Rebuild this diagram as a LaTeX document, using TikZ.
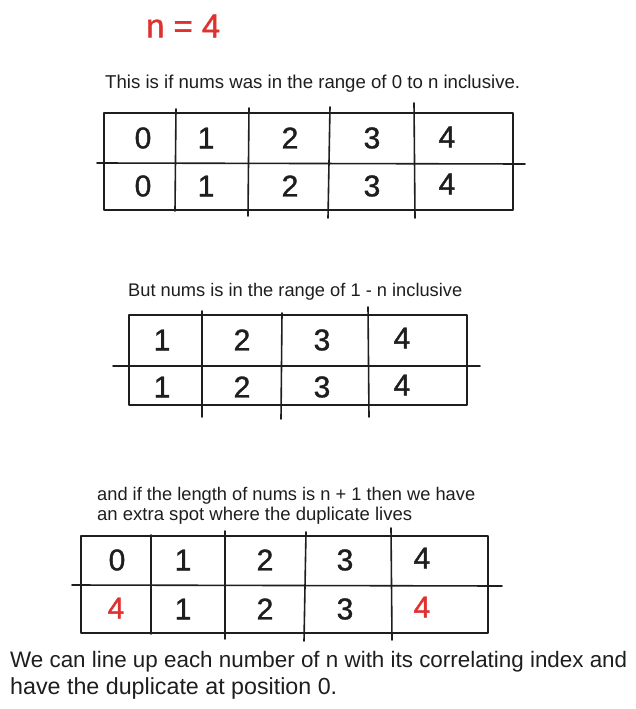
\documentclass[tikz,border=0pt]{standalone}
\usepackage{fontspec}
\setmainfont{Liberation Sans}
\newfontfamily\digitfont[FakeBold=1.2]{Liberation Sans}
\usepackage{graphicx}
\definecolor{ink}{HTML}{1E1E1E}
\definecolor{redink}{HTML}{E03131}
\tikzset{
  gridline/.style={draw=ink, line width=1.6pt, line cap=round, line join=round},
  digit/.style={text=ink, font=\digitfont\fontsize{30}{30}\selectfont, inner sep=0pt, anchor=center},
  reddigit/.style={digit, text=redink},
  note/.style={text=ink, inner sep=0pt, anchor=west, align=left},
}
\begin{document}
\begin{tikzpicture}[x=1pt,y=-1pt]
\useasboundingbox (0,0) rectangle (636,709);
\fill[white] (0,0) rectangle (636,709);

% title
\node[anchor=west, inner sep=0pt, text=redink, font=\digitfont] (nval) at (146,26) {\resizebox{74pt}{!}{n = 4}};

% ---------- table 1
\node[note] (t1) at (105,84) {\resizebox{415pt}{!}{This is if nums was in the range of 0 to n inclusive.}};
\draw[gridline] (104,113) rectangle (513,210);
\draw[gridline] (97,163) -- (525,164);
\draw[gridline] (176,109) -- (175,211);
\draw[gridline] (249,108) -- (248,216);
\draw[gridline] (330,107) -- (328,218);
\draw[gridline] (414,103) -- (415,218);
\node[digit] (a0) at (143,138) {0};
\node[digit] (a1) at (206,138) {1};
\node[digit] (a2) at (290,138) {2};
\node[digit] (a3) at (372,138) {3};
\node[digit] (a4) at (447,137) {4};
\node[digit] (b0) at (143,186) {0};
\node[digit] (b1) at (206,186) {1};
\node[digit] (b2) at (290,186) {2};
\node[digit] (b3) at (372,186) {3};
\node[digit] (b4) at (447,184) {4};

% ---------- table 2
\node[note] (t2) at (128,292) {\resizebox{334pt}{!}{But nums is in the range of 1 - n inclusive}};
\draw[gridline] (129,315) rectangle (467,405);
\draw[gridline] (113,366) -- (480,366);
\draw[gridline] (202,311) -- (202,417);
\draw[gridline] (282,313) -- (281,419);
\draw[gridline] (368,307) -- (369,417);
\node[digit] (c1) at (162,340) {1};
\node[digit] (c2) at (242,340) {2};
\node[digit] (c3) at (322,340) {3};
\node[digit] (c4) at (402,338) {4};
\node[digit] (d1) at (162,387) {1};
\node[digit] (d2) at (242,387) {2};
\node[digit] (d3) at (322,387) {3};
\node[digit] (d4) at (402,385) {4};

% ---------- table 3
\node[note] (t3) at (97,496) {\resizebox{378pt}{!}{and if the length of nums is n + 1 then we have}};
\node[note] (t3b) at (97,516) {\resizebox{315pt}{!}{an extra spot where the duplicate lives}};
\draw[gridline] (81,536) rectangle (488,633);
\draw[gridline] (72,585) -- (502,586);
\draw[gridline] (151,535) -- (151,634);
\draw[gridline] (225,531) -- (225,639);
\draw[gridline] (306,532) -- (304,641);
\draw[gridline] (391,528) -- (392,640);
\node[digit] (e0) at (117,560) {0};
\node[digit] (e1) at (183,560) {1};
\node[digit] (e2) at (265,560) {2};
\node[digit] (e3) at (345,560) {3};
\node[digit] (e4) at (422,558) {4};
\node[reddigit] (f0) at (116,608) {4};
\node[digit] (f1) at (183,609) {1};
\node[digit] (f2) at (265,609) {2};
\node[digit] (f3) at (345,609) {3};
\node[reddigit] (f4) at (422,607) {4};

% ---------- conclusion
\node[note] (c) at (10,662) {\resizebox{617pt}{!}{We can line up each number of n with its correlating index and}};
\node[note] (cb) at (10,688) {\resizebox{327pt}{!}{have the duplicate at position 0.}};
\end{tikzpicture}
\end{document}
